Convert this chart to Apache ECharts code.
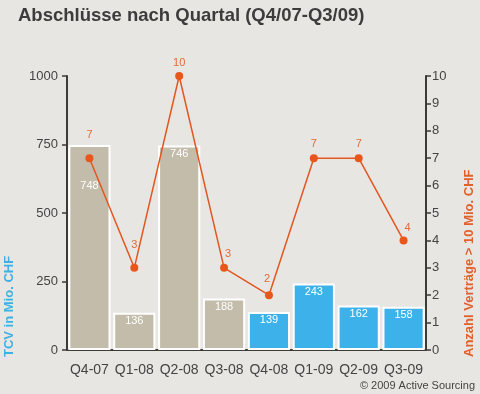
<!DOCTYPE html>
<html><head><meta charset="utf-8">
<script src="https://cdn.jsdelivr.net/npm/echarts@6/dist/echarts.min.js"></script>
<style>html,body{margin:0;padding:0;background:#e8e6e2;}#c{width:480px;height:394px;}</style>
</head><body><div id="c"></div>
<script>
const categories = ['Q4-07','Q1-08','Q2-08','Q3-08','Q4-08','Q1-09','Q2-09','Q3-09'];
const tcvValues = [748,136,746,188,139,243,162,158];
const contractCounts = [7,3,10,3,2,7,7,4];
const leftTicks = [0,250,500,750,1000];
const rightTicks = [0,1,2,3,4,5,6,7,8,9,10];

const barColors = ['#c3bcab','#c3bcab','#c3bcab','#c3bcab','#3db2ea','#3db2ea','#3db2ea','#3db2ea'];
const barLabelOffsets = [[0,32],[0,0],[0,0],[0,0],[0,0],[0,0],[0,0],[0,0]];
const lineLabelOffsets = [[0,-9],[0,-8],[0,1],[4,1],[-2,-2],[0,0],[0,0],[4,2]];
const font = 'Liberation Sans, Arial, sans-serif';
const axisColor = '#3e3b35';

const chart = echarts.init(document.getElementById('c'));
chart.setOption({
  backgroundColor: '#e8e6e2',
  animation: false,
  textStyle: {fontFamily: font},
  grid: {left: 67, right: 54, top: 76, bottom: 44},
  graphic: [
    {type:'text', left: 18, top: 6, style:{text:'Abschlüsse nach Quartal (Q4/07-Q3/09)', font:'bold 18.5px ' + font, fill:'#3c3c3c'}},
    {type:'text', x: 9, y: 357, rotation: Math.PI/2, style:{text:'TCV in Mio. CHF', font:'bold 13px ' + font, fill:'#3fb0e6', align:'left', verticalAlign:'middle'}},
    {type:'text', x: 469, y: 357, rotation: Math.PI/2, style:{text:'Anzahl Verträge > 10 Mio. CHF', font:'bold 13px ' + font, fill:'#e2602c', align:'left', verticalAlign:'middle'}},
    {type:'text', right: 5, top: 380, style:{text:'© 2009 Active Sourcing', font:'11px ' + font, fill:'#444'}}
  ],
  xAxis: {
    type: 'category', data: categories,
    axisLine: {lineStyle:{color: axisColor, width: 2}},
    axisTick: {length: 4, lineStyle:{color: axisColor, width: 1.5}},
    axisLabel: {color:'#444', fontSize: 14, margin: 13, interval: 0}
  },
  yAxis: [
    {type:'value', min: 0, max: 1000, interval: 250,
     axisLine:{show:true, lineStyle:{color: axisColor, width: 2}},
     axisTick:{show:true, length: 5, lineStyle:{color: axisColor, width: 1.5}},
     splitLine:{show:false},
     axisLabel:{color:'#444', fontSize: 13, margin: 9, formatter: v => leftTicks.includes(v) ? String(v) : ''}},
    {type:'value', min: 0, max: 10, interval: 1, position:'right',
     axisLine:{show:true, lineStyle:{color: axisColor, width: 2}},
     axisTick:{show:true, length: 5, lineStyle:{color: axisColor, width: 1.5}},
     splitLine:{show:false},
     axisLabel:{color:'#444', fontSize: 13, margin: 6, formatter: v => rightTicks.includes(v) ? String(v) : ''}}
  ],
  series: [
    {type:'bar', yAxisIndex: 0, barCategoryGap: '6%',
     data: tcvValues.map((v,i) => ({value: v, itemStyle:{color: barColors[i], borderColor:'#ffffff', borderWidth: 2},
       label:{offset: barLabelOffsets[i]}})),
     label:{show:true, position:'insideTop', distance: 3, color:'#ffffff', fontSize: 11}},
    {type:'line', yAxisIndex: 1, symbol:'circle', symbolSize: 8,
     lineStyle:{color:'#e2561f', width: 1.5}, itemStyle:{color:'#e8561c'},
     data: contractCounts.map((v,i) => ({value: v, label:{offset: lineLabelOffsets[i]}})),
     label:{show:true, position:'top', distance: 5, color:'#e06a3a', fontSize: 11}}
  ]
});
</script></body></html>
